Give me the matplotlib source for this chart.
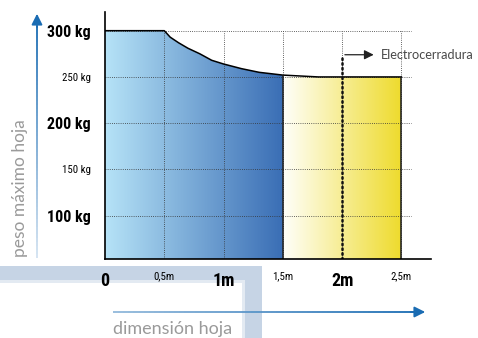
import matplotlib.pyplot as plt
import numpy as np
from matplotlib import font_manager as fm
from matplotlib.collections import LineCollection
from matplotlib.colors import LinearSegmentedColormap
from matplotlib.patches import Polygon, Rectangle

# leaf width (m) ticks and labels
widths = [0, 0.5, 1.0, 1.5, 2.0, 2.5]
width_labels = ["0", "0,5m", "1m", "1,5m", "2m", "2,5m"]
# weight ticks (kg)
weights = [100, 150, 200, 250, 300]
weight_labels = ["100 kg", "150 kg", "200 kg", "250 kg", "300 kg"]
# max leaf weight curve
curve_x = [0, 0.5, 0.55, 0.62, 0.7, 0.8, 0.9, 1.0, 1.15, 1.3, 1.5, 1.8, 2.5]
curve_y = [300, 300, 293, 287, 281, 275, 268, 264, 259, 255, 252, 250, 250]
# zones
blue_zone = (0, 1.5)
yellow_zone = (1.5, 2.5)
lock_x = 2.0
lock_top = 274
lock_label = "Electrocerradura"

ymin, ymax = 53.2, 320.2
xmax = 2.75

# pick a narrow face if one is there
ttf = fm.fontManager.ttflist
names = {f.name for f in ttf}
cond_family = "DejaVu Sans"
for cand in ["Liberation Sans Narrow", "Roboto Condensed", "Open Sans Condensed",
             "Noto Sans Condensed", "Roboto"]:
    if cand in names:
        cond_family = cand
        break
dv_cond = any(f.name == "DejaVu Sans" and str(f.stretch) in ("condensed", "semi-condensed") for f in ttf)
if cond_family == "Roboto" and dv_cond:
    cond_family = "DejaVu Sans"
COND = dict(family=[cond_family, "DejaVu Sans"], fontstretch="condensed")
LIGHT = ["Lato", "DejaVu Sans"]

fig = plt.figure(figsize=(4.78, 3.38), dpi=100)
W, H = 478, 338

# background decorations in pixel coordinates
bg = fig.add_axes([0, 0, 1, 1])
bg.set_xlim(0, W)
bg.set_ylim(H, 0)
bg.axis("off")

band = "#c6d4e5"
bg.add_patch(Rectangle((0, 266), 262, 16, color=band, lw=0))
bg.add_patch(Rectangle((245, 266), 17, 80, color=band, lw=0))
bg.add_patch(Rectangle((0, 280), 245, 3, color="#e3eaf2", lw=0))
bg.add_patch(Rectangle((242, 280), 3, 60, color="#e3eaf2", lw=0))

arrow_cmap = LinearSegmentedColormap.from_list("arr", ["#d2e2f1", "#1a6cb3"])

# vertical axis arrow
vy = np.linspace(258, 26, 60)
segs = [[(37, vy[i]), (37, vy[i + 1])] for i in range(len(vy) - 1)]
bg.add_collection(LineCollection(segs, colors=arrow_cmap(np.linspace(0, 1, len(segs))), lw=1.3))
bg.annotate("", xy=(37, 11), xytext=(37, 30),
            arrowprops=dict(arrowstyle="-|>", color="#1a6cb3", lw=1.3, mutation_scale=16))
bg.text(20, 188, "peso máximo hoja", rotation=90, ha="center", va="center",
        fontsize=12.5, color="#9a9a9a", family=LIGHT)

# horizontal axis arrow
hx = np.linspace(113, 414, 60)
segs = [[(hx[i], 312), (hx[i + 1], 312)] for i in range(len(hx) - 1)]
bg.add_collection(LineCollection(segs, colors=arrow_cmap(np.linspace(0.35, 1, len(segs))), lw=1.3))
bg.annotate("", xy=(428, 312), xytext=(408, 312),
            arrowprops=dict(arrowstyle="-|>", color="#1a6cb3", lw=1.3, mutation_scale=16))
bg.text(113, 321, "dimensión hoja", ha="left", va="top",
        fontsize=13, color="#9a9a9a", family=LIGHT)

# main chart
ax = fig.add_axes([105 / W, (H - 259) / H, 326 / W, 247 / H], zorder=2)
ax.patch.set_alpha(0)


def gradient_fill(x0, x1, top_x, top_y, c0, c1):
    cmap = LinearSegmentedColormap.from_list("g", [c0, c1])
    grad = np.linspace(0, 1, 256).reshape(1, -1)
    im = ax.imshow(grad, cmap=cmap, extent=[x0, x1, ymin, max(top_y)],
                   aspect="auto", interpolation="bilinear", zorder=1)
    verts = [(x0, ymin)] + list(zip(top_x, top_y)) + [(x1, ymin)]
    poly = Polygon(verts, closed=True, transform=ax.transData, fc="none", ec="none")
    ax.add_patch(poly)
    im.set_clip_path(poly)


cx = np.array(curve_x)
cy = np.array(curve_y)
m = (cx >= blue_zone[0]) & (cx <= blue_zone[1])
gradient_fill(blue_zone[0], blue_zone[1], cx[m], cy[m], "#b6e3f7", "#3a6eb5")
m = (cx >= yellow_zone[0]) & (cx <= yellow_zone[1])
gradient_fill(yellow_zone[0], yellow_zone[1], cx[m], np.full(m.sum(), 250), "#fffffa", "#eedb2c")

# dotted grid
dot = (0, (1, 1.6))
ax.hlines(weights, 0, 2.58, colors="#333333", lw=0.6, linestyles=[dot], zorder=3)
ax.vlines(widths[1:], ymin, 300, colors="#333333", lw=0.6, linestyles=[dot], zorder=3)

# outlines
ax.plot(curve_x, curve_y, color="black", lw=1.1, zorder=4)
ax.vlines([blue_zone[1]], ymin, np.interp(blue_zone[1], curve_x, curve_y), colors="#1a1a1a", lw=1.1, zorder=4)
ax.vlines([yellow_zone[1]], ymin, 250, colors="#1a1a1a", lw=1.1, zorder=4)

# electric lock marker
ax.plot([lock_x, lock_x], [ymin, lock_top], color="#111111", lw=1.8,
        linestyle=(0, (0.6, 1.3)), dash_capstyle="round", zorder=5)
ax.annotate("", xy=(2.29, lock_top), xytext=(lock_x, lock_top),
            arrowprops=dict(arrowstyle="-|>", color="#222222", lw=0.9, mutation_scale=14), zorder=5)
ax.text(2.33, lock_top, lock_label, ha="left", va="center", fontsize=9.2,
        color="#4a4a4a", family=LIGHT)

ax.set_xlim(0, xmax)
ax.set_ylim(ymin, ymax)
for s in ["top", "right"]:
    ax.spines[s].set_visible(False)
for s in ["left", "bottom"]:
    ax.spines[s].set_linewidth(1.2)
    ax.spines[s].set_zorder(6)

ax.set_xticks(widths)
ax.set_xticklabels(width_labels, **COND)
ax.set_yticks(weights)
ax.set_yticklabels(weight_labels, **COND)
ax.tick_params(length=0)
ax.tick_params(axis="x", pad=9)
ax.tick_params(axis="y", pad=10)
for lab, txt in zip(ax.get_xticklabels(), width_labels):
    big = "," not in txt
    lab.set_fontsize(13 if big else 7.8)
    lab.set_fontweight("bold" if big else "normal")
for lab, v in zip(ax.get_yticklabels(), weights):
    big = v % 100 == 0
    lab.set_fontsize(11.5 if big else 7.8)
    lab.set_fontweight("bold" if big else "normal")

fig.savefig("out.png", dpi=100)
